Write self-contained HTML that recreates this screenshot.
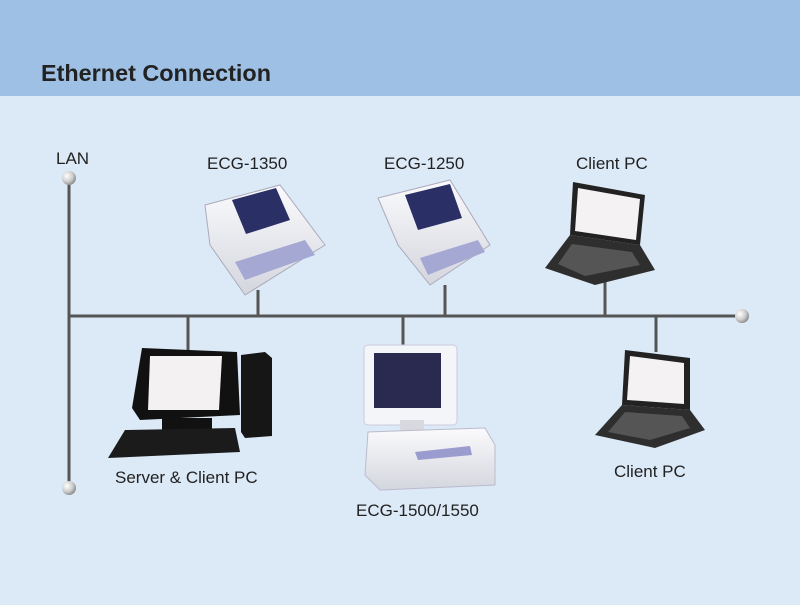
<!DOCTYPE html>
<html><head><meta charset="utf-8"><style>
html,body{margin:0;padding:0}
body{width:800px;height:600px;overflow:hidden;background:#dce9f7;font-family:"Liberation Sans",sans-serif}
</style></head><body>
<svg width="800" height="600" xmlns="http://www.w3.org/2000/svg" font-family="Liberation Sans, sans-serif">
<defs>
<radialGradient id="ball" cx="0.35" cy="0.35" r="0.7"><stop offset="0" stop-color="#fff"/><stop offset="0.6" stop-color="#ccc"/><stop offset="1" stop-color="#888"/></radialGradient>
<linearGradient id="body" x1="0" y1="0" x2="0" y2="1"><stop offset="0" stop-color="#fbfbfd"/><stop offset="1" stop-color="#d4d6de"/></linearGradient>
</defs>
<rect x="0" y="0" width="800" height="96" fill="#9fc0e5"/>
<text x="41" y="81" font-size="23" font-weight="bold" fill="#222" textLength="230" lengthAdjust="spacingAndGlyphs">Ethernet Connection</text>
<g stroke="#555" stroke-width="3" fill="none">
<line x1="69" y1="178" x2="69" y2="488"/>
<line x1="69" y1="316" x2="742" y2="316"/>
<line x1="258" y1="290" x2="258" y2="316"/>
<line x1="445" y1="285" x2="445" y2="316"/>
<line x1="605" y1="282" x2="605" y2="316"/>
<line x1="188" y1="316" x2="188" y2="352"/>
<line x1="403" y1="316" x2="403" y2="346"/>
<line x1="656" y1="316" x2="656" y2="352"/>
</g>
<circle cx="69" cy="178" r="7" fill="url(#ball)"/>
<circle cx="69" cy="488" r="7" fill="url(#ball)"/>
<circle cx="742" cy="316" r="7" fill="url(#ball)"/>
<g font-size="17" fill="#222">
<text x="56" y="164">LAN</text>
<text x="207" y="169">ECG-1350</text>
<text x="384" y="169">ECG-1250</text>
<text x="576" y="169">Client PC</text>
<text x="115" y="483">Server &amp; Client PC</text>
<text x="356" y="516">ECG-1500/1550</text>
<text x="614" y="477">Client PC</text>
</g>
<g>
<polygon points="205,205 280,185 325,245 245,295 210,245" fill="url(#body)" stroke="#aab" stroke-width="1"/>
<polygon points="232,200 276,188 290,220 246,234" fill="#2a2f66"/>
<polygon points="235,262 305,240 315,255 245,280" fill="#a6a8d4"/>
</g>
<g>
<polygon points="378,198 450,180 490,245 430,285 398,245" fill="url(#body)" stroke="#aab" stroke-width="1"/>
<polygon points="405,195 450,184 462,218 418,230" fill="#2a2f66"/>
<polygon points="420,258 478,240 485,252 428,275" fill="#a6a8d4"/>
</g>
<g>
<polygon points="573,182 645,195 640,245 570,235" fill="#222"/>
<polygon points="578,188 640,199 636,240 575,231" fill="#f4f2f2"/>
<polygon points="570,235 640,245 655,270 595,285 545,268" fill="#2e2e2e"/>
<polygon points="572,244 632,252 640,265 585,276 558,264" fill="#555"/>
</g>
<g>
<polygon points="142,348 237,352 240,415 140,420 132,408" fill="#111"/>
<polygon points="150,356 222,356 219,410 148,410" fill="#f3f1f1"/>
<rect x="162" y="418" width="50" height="14" fill="#111"/>
<polygon points="125,430 235,428 240,452 108,458" fill="#1b1b1b"/>
<polygon points="241,355 265,352 272,358 272,436 245,438 241,432" fill="#161616"/>
</g>
<g>
<rect x="364" y="345" width="93" height="80" rx="4" fill="#f4f5f8" stroke="#ccd" />
<rect x="374" y="353" width="67" height="55" fill="#2a2a50"/>
<rect x="400" y="420" width="24" height="15" fill="#d8d9de"/>
<path d="M368,432 L485,428 L495,445 L495,485 L380,490 L365,475 Z" fill="url(#body)" stroke="#bbc"/>
<polygon points="415,452 470,446 472,455 418,460" fill="#9a9cd0"/>
</g>
<g>
<polygon points="625,350 690,358 690,410 622,405" fill="#222"/>
<polygon points="630,356 684,363 684,404 627,400" fill="#f4f2f2"/>
<polygon points="622,405 690,410 705,430 655,448 595,435" fill="#2e2e2e"/>
<polygon points="625,412 682,416 690,428 650,440 608,432" fill="#555"/>
</g>
</svg>
</body></html>
